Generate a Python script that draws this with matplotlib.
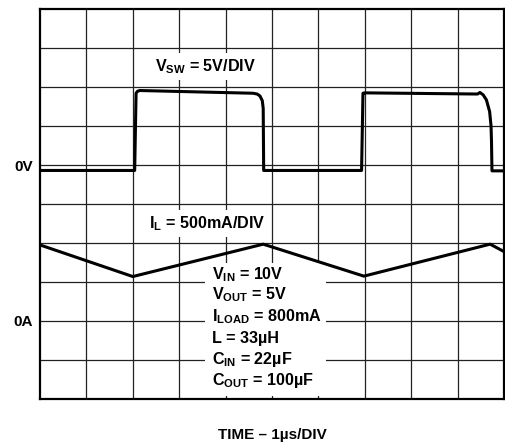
import matplotlib
matplotlib.use("Agg")
import matplotlib.pyplot as plt
from matplotlib.patches import Rectangle

plt.rcParams['font.family'] = ['Liberation Sans', 'DejaVu Sans']
plt.rcParams['font.weight'] = 'bold'
plt.rcParams['mathtext.fontset'] = 'custom'
plt.rcParams['mathtext.rm'] = 'Liberation Sans:bold'
plt.rcParams['mathtext.it'] = 'Liberation Sans:bold'
plt.rcParams['mathtext.bf'] = 'Liberation Sans:bold'

# traza V_SW (divisiones)
t_sw = [0.0, 2.04, 2.07, 2.10, 2.15, 4.59, 4.68, 4.74, 4.79, 4.81, 4.82, 6.93,
        6.96, 7.00, 9.43, 9.48, 9.55, 9.62, 9.69, 9.72, 9.73, 9.74, 10.0]
v_sw = [5.86, 5.86, 7.84, 7.89, 7.91, 7.84, 7.82, 7.77, 7.65, 7.45, 5.86, 5.86,
        7.84, 7.85, 7.82, 7.86, 7.80, 7.67, 7.37, 7.00, 6.60, 5.85, 5.85]

# traza I_L (divisiones)
t_il = [0.0, 2.0, 4.81, 6.98, 9.70, 10.0]
i_l = [3.95, 3.14, 3.97, 3.15, 3.97, 3.78]

params = ["V$_{\\mathrm{IN}}$ = 10V", "V$_{\\mathrm{OUT}}$ = 5V",
          "I$_{\\mathrm{LOAD}}$ = 800mA", "L = 33\u00b5H",
          "C$_{\\mathrm{IN}}$ = 22\u00b5F", "C$_{\\mathrm{OUT}}$ = 100\u00b5F"]
param_y = [3.07, 2.56, 1.98, 1.43, 0.90, 0.36]

fig = plt.figure(figsize=(5.06, 4.46), dpi=100)
ax = fig.add_axes([0.0791, 0.1054, 0.917, 0.8744])
ax.set_xlim(0, 10)
ax.set_ylim(0, 10)

for k in range(1, 10):
    ax.axvline(k, color='#222222', lw=0.9, zorder=1)
    ax.axhline(k, color='#222222', lw=0.9, zorder=1)

ax.add_patch(Rectangle((3.55, 0.08), 2.62, 3.40, facecolor='white',
                       edgecolor='none', zorder=2))

ax.plot(t_sw, v_sw, color='black', lw=2.2, zorder=3, solid_joinstyle='round')
ax.plot(t_il, i_l, color='black', lw=2.2, zorder=3)

box = dict(facecolor='white', edgecolor='none', pad=3)
ax.text(2.47, 8.40, "V$_{\\mathrm{SW}}$ = 5V/DIV", fontsize=11.6, va='baseline',
        bbox=box, zorder=4)
ax.text(2.34, 4.38, "I$_{\\mathrm{L}}$ = 500mA/DIV", fontsize=11.6, va='baseline',
        bbox=box, zorder=4)
for s, yy in zip(params, param_y):
    ax.text(3.71, yy, s, fontsize=11.6, va='baseline', zorder=4)

ax.set_xticks([])
ax.set_yticks([2, 6])
ax.set_yticklabels(["0A", "0V"], fontsize=11, fontweight='bold')
ax.tick_params(axis='y', length=0, pad=5)
for sp in ax.spines.values():
    sp.set_linewidth(1.6)

ax.set_xlabel("TIME \u2013 1\u00b5s/DIV", fontsize=11, fontweight='bold', labelpad=21)

fig.savefig("out.png", dpi=100)
